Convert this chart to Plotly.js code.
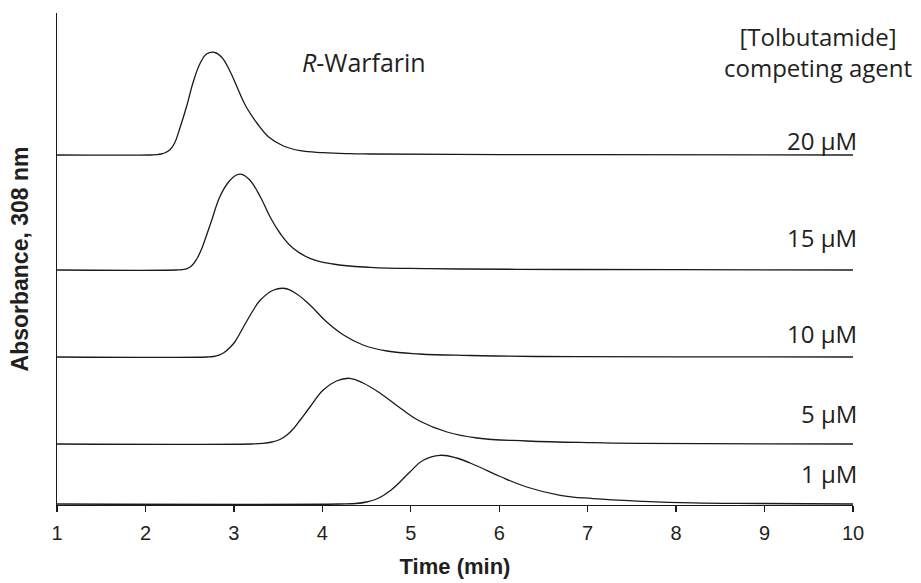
<!DOCTYPE html>
<html>
<head>
<meta charset="utf-8">
<script src="https://cdn.plot.ly/plotly-3.0.1.min.js"></script>
<style>html,body{margin:0;padding:0;background:#fff;}#chart{width:921px;height:583px;}</style>
</head>
<body>
<div id="chart"></div>
<script>
// Series labels (tolbutamide concentration)
const labels = ["1 µM", "5 µM", "10 µM", "15 µM", "20 µM"];
// Vertical offsets of each chromatogram (arbitrary absorbance units)
const offsets = [0, 60, 147, 234, 349];

// Time (min) and absorbance above baseline for each trace
const t1  = [1, 4.2, 4.38, 4.50, 4.60, 4.69, 4.77, 4.84, 4.99, 5.14, 5.33, 5.52, 5.75, 6.01, 6.31, 6.69, 7.06, 7.63, 8.19, 8.95, 10];
const a1  = [0, 0, 0.5, 2, 4.5, 8.5, 13.5, 18.7, 32, 43.7, 48.7, 46, 38, 27.5, 17, 8.7, 5.4, 2.7, 1.1, 0.5, 0];

const t5  = [1, 3.2, 3.33, 3.43, 3.52, 3.60, 3.67, 3.75, 3.86, 4.01, 4.16, 4.31, 4.46, 4.65, 4.88, 5.10, 5.41, 5.75, 6.31, 7.06, 7.59, 9, 10];
const a5  = [0, 0, 0.6, 2, 4.5, 9, 15, 24, 37, 54, 63, 65.7, 61, 51, 36, 23, 12, 6, 3, 1.3, 0.7, 0.2, 0];

const t10 = [1, 2.70, 2.77, 2.83, 2.89, 2.95, 3.01, 3.07, 3.14, 3.22, 3.30, 3.45, 3.58, 3.71, 3.86, 4.05, 4.24, 4.46, 4.73, 5.10, 5.67, 6.42, 8, 10];
const a10 = [0, 0, 0.5, 1.8, 4.5, 9, 15, 24, 35, 47, 57, 67, 68.5, 63, 52, 35, 22, 12, 6, 3, 1.5, 0.5, 0.2, 0];

const t15 = [1, 2.35, 2.42, 2.47, 2.52, 2.58, 2.62, 2.66, 2.75, 2.84, 2.94, 3.03, 3.09, 3.18, 3.30, 3.41, 3.52, 3.67, 3.86, 4.12, 4.54, 5.2, 6.2, 8, 10];
const a15 = [0, 0, 0.4, 1.3, 4, 11, 18, 27, 50, 73, 88, 95, 95.7, 90, 73, 53, 37, 21.7, 11.7, 6, 2.7, 1.4, 0.7, 0.3, 0];

const t20 = [1, 2.05, 2.12, 2.18, 2.23, 2.28, 2.33, 2.39, 2.47, 2.54, 2.62, 2.69, 2.78, 2.86, 2.96, 3.05, 3.14, 3.26, 3.39, 3.56, 3.75, 4.01, 4.31, 4.54, 5.5, 7.0, 10];
const a20 = [0, 0, 0.3, 1, 2.5, 5.5, 12, 27, 50, 73, 92, 101, 102.7, 98, 83, 65, 48, 32, 18.3, 9, 4.3, 2.3, 1.3, 1, 0.6, 0.3, 0];

const times = [t1, t5, t10, t15, t20];
const signals = [a1, a5, a10, a15, a20];

const traces = times.map((t, i) => ({
  x: t,
  y: signals[i].map(v => v + offsets[i]),
  type: "scatter",
  mode: "lines",
  line: {color: "#1a1a1a", width: 1.3, shape: "spline", smoothing: 1.2},
  hoverinfo: "skip",
  showlegend: false
}));

const labelY = [31, 91, 171, 267, 364];
const txtFont = {family: "Open Sans, sans-serif", size: 24, color: "#231f20"};

const annotations = labels.map((s, i) => ({
  x: 10, y: labelY[i], xref: "x", yref: "y", xshift: 6,
  text: s, showarrow: false, xanchor: "right", yanchor: "middle", font: txtFont
}));
annotations.push({
  x: 9.60, y: 452, xref: "x", yref: "y",
  text: "[Tolbutamide]<br>competing agent", showarrow: false,
  xanchor: "center", yanchor: "middle", align: "center", font: txtFont
});
annotations.push({
  x: 4.47, y: 442, xref: "x", yref: "y",
  text: "<i>R</i>-Warfarin", showarrow: false,
  xanchor: "center", yanchor: "middle", font: {family: "Open Sans, sans-serif", size: 25, color: "#231f20"}
});

const layout = {
  width: 921, height: 583,
  margin: {l: 57, r: 68, t: 13, b: 78},
  paper_bgcolor: "#fff", plot_bgcolor: "#fff",
  xaxis: {
    range: [1, 10], tickmode: "array", tickvals: [1,2,3,4,5,6,7,8,9,10],
    showgrid: false, zeroline: false, showline: true, linecolor: "#1a1a1a", linewidth: 1.3,
    ticks: "outside", ticklen: 6, tickwidth: 1.3, tickcolor: "#1a1a1a", ticklabelstandoff: 4,
    tickfont: {family: "Liberation Sans, Arial, sans-serif", size: 20, color: "#231f20"},
    title: {text: "Time (min)", font: {family: "Liberation Sans, Arial, sans-serif", size: 22, color: "#231f20", weight: "bold"}, standoff: 15}
  },
  yaxis: {
    range: [-1, 491], showgrid: false, zeroline: false, showline: true,
    linecolor: "#1a1a1a", linewidth: 1.3, ticks: "", showticklabels: false,
    title: {text: "Absorbance, 308 nm", font: {family: "Liberation Sans, Arial, sans-serif", size: 23, color: "#231f20", weight: "bold"}, standoff: 20}
  },
  annotations: annotations
};

Plotly.newPlot("chart", traces, layout, {displayModeBar: false, staticPlot: true});
</script>
</body>
</html>
